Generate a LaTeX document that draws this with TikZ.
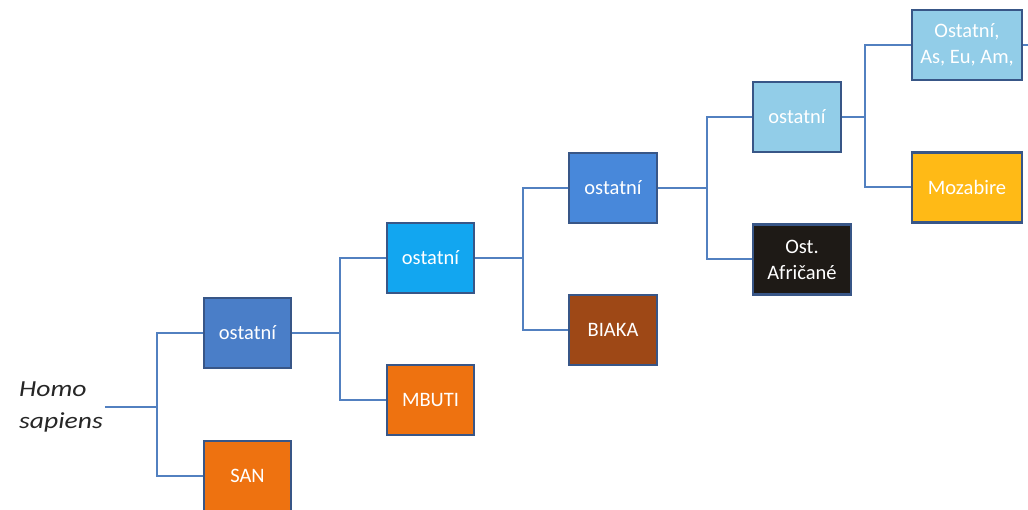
\documentclass[tikz,border=0pt]{standalone}
\usepackage{fontspec}
\setmainfont{Carlito}
\newfontfamily\boxfont{Carlito}
\newfontfamily\hsfont[FakeStretch=1.2]{Carlito}
\definecolor{conn}{RGB}{82,128,192}
\definecolor{bord}{RGB}{56,86,135}
\definecolor{midblue}{RGB}{74,126,200}
\definecolor{brightblue}{RGB}{18,166,240}
\definecolor{blue3}{RGB}{72,136,218}
\definecolor{lightblue}{RGB}{146,205,232}
\definecolor{orng}{RGB}{238,114,16}
\definecolor{brwn}{RGB}{158,72,22}
\definecolor{blk}{RGB}{30,26,22}
\definecolor{gold}{RGB}{255,186,22}
\tikzset{
  bx/.style={draw=bord, line width=2.4pt, minimum width=87pt, minimum height=70pt,
    inner sep=2pt, text=white, align=center, font=\boxfont\fontsize{20.5}{26}\selectfont},
  cn/.style={draw=conn, line width=2pt},
}
\begin{document}
\begin{tikzpicture}[x=1pt,y=-1pt]
\useasboundingbox (0,0) rectangle (1028,510);
\fill[white] (0,0) rectangle (1028,510);
\node[anchor=west, align=left, inner sep=2pt, font=\hsfont\itshape\fontsize{23}{32}\selectfont, text=black!85] (hs) at (17,407) {Homo\\sapiens};
\node[bx, fill=midblue] (o1) at (247.5,333) {ostatní};
\node[bx, fill=orng] (san) at (247.5,476) {SAN};
\node[bx, fill=brightblue] (o2) at (430.5,258) {ostatní};
\node[bx, fill=orng] (mbuti) at (430.5,400) {MBUTI};
\node[bx, fill=blue3, minimum width=88pt] (o3) at (613,188) {ostatní};
\node[bx, fill=brwn, minimum width=88pt] (biaka) at (613,330) {BIAKA};
\node[bx, fill=lightblue, minimum width=88pt] (o4) at (797,117) {ostatní};
\node[bx, fill=blk, minimum width=98pt] (afr) at (802,259.5) {Ost.\\Afričané};
\node[bx, fill=lightblue, minimum width=110pt] (oae) at (967,45) {Ostatní,\\As, Eu, Am,};
\node[bx, fill=gold, minimum width=110pt] (moz) at (967,187.5) {Mozabire};
\coordinate (j1) at (157,407);
\coordinate (j2) at (340,333);
\coordinate (j3) at (523,258);
\coordinate (j4) at (707,188);
\coordinate (j5) at (865,117);
\coordinate (edge) at (1032,45);
\draw[cn] (hs.east |- j1) -- (j1);
\draw[cn] (o1.west) -| (j1) |- (san.west);
\draw[cn] (o1.east) -- (j2);
\draw[cn] (o2.west) -| (j2) |- (mbuti.west);
\draw[cn] (o2.east) -- (j3);
\draw[cn] (o3.west) -| (j3) |- (biaka.west);
\draw[cn] (o3.east) -- (j4);
\draw[cn] (o4.west) -| (j4) |- (afr.west);
\draw[cn] (o4.east) -- (j5);
\draw[cn] (oae.west) -| (j5) |- (moz.west);
\draw[cn] (oae.east) -- (edge);
\end{tikzpicture}
\end{document}
